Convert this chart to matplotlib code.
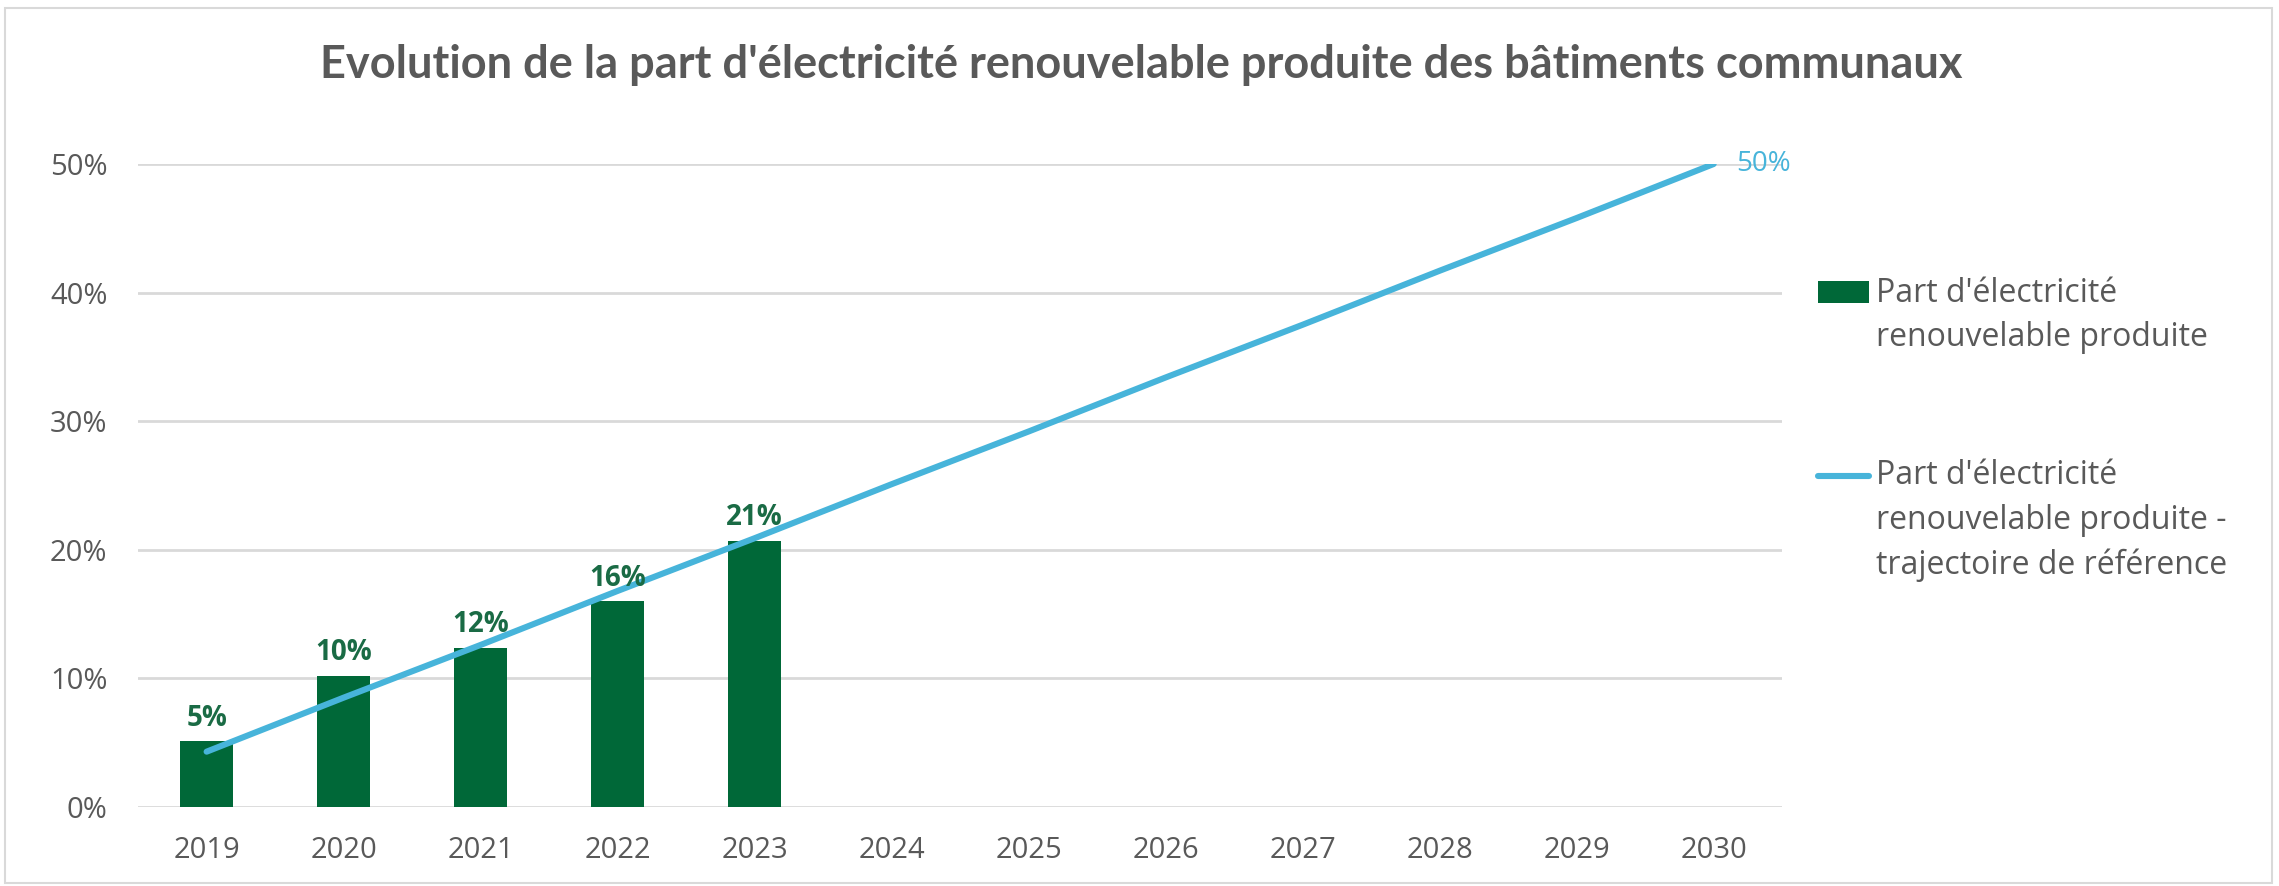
import matplotlib
matplotlib.use("Agg")
import matplotlib.pyplot as plt
from matplotlib.patches import Rectangle
from matplotlib.container import BarContainer
from matplotlib.lines import Line2D
from matplotlib.legend_handler import HandlerPatch, HandlerLine2D, update_from_first_child
from matplotlib.ticker import PercentFormatter

# ---- data ----
years = ['2019', '2020', '2021', '2022', '2023', '2024', '2025', '2026', '2027', '2028', '2029', '2030']
part_produite = [0.051, 0.102, 0.124, 0.160, 0.207]          # bars 2019-2023
bar_labels = ['5%', '10%', '12%', '16%', '21%']
trajectoire = [0.043, 0.085, 0.126, 0.168, 0.209, 0.251, 0.292, 0.334, 0.375, 0.417, 0.458, 0.500]
end_label = '50%'

title = "Evolution de la part d'électricité renouvelable produite des bâtiments communaux"
lbl_bar = "Part d'électricité\nrenouvelable produite"
lbl_line = "Part d'électricité\nrenouvelable produite -\ntrajectoire de référence"

GREEN = '#006838'
GREEN_TXT = '#1A6B45'
BLUE = '#47B4DA'
GREY_TXT = '#595959'
GRID = '#D9D9D9'

LEG_FS = 23


# legend handles sit on the first line of a multi-line label, not the last
# (up = how many points to raise the handle)
class TopPatch(HandlerPatch):
    def __init__(self, up, **kw):
        super().__init__(**kw)
        self.up = up

    def create_artists(self, legend, orig_handle, xdescent, ydescent, width, height, fontsize, trans):
        return super().create_artists(legend, orig_handle, xdescent, ydescent - self.up,
                                      width, height, fontsize, trans)


class TopLine(HandlerLine2D):
    def __init__(self, up, **kw):
        super().__init__(**kw)
        self.up = up

    def create_artists(self, legend, orig_handle, xdescent, ydescent, width, height, fontsize, trans):
        # line y is (height - ydescent) / 2
        return super().create_artists(legend, orig_handle, xdescent, ydescent - 2 * self.up,
                                      width, height, fontsize, trans)


plt.rcParams['font.family'] = ['Open Sans', 'DejaVu Sans']

fig = plt.figure(figsize=(22.79, 8.86), dpi=100)
ax = fig.add_axes([0.0606, 0.0892, 0.7214, 0.7257])

x = list(range(len(years)))
bars = ax.bar(x[:len(part_produite)], part_produite, width=0.39, color=GREEN, zorder=2)
line, = ax.plot(x, trajectoire, color=BLUE, lw=4.4, solid_capstyle='round', zorder=3)

for xi, v, t in zip(x, part_produite, bar_labels):
    ax.annotate(t, (xi, v), xytext=(0, 6), textcoords='offset points',
                ha='center', va='bottom', fontsize=20, fontweight='bold', color=GREEN_TXT)
ax.annotate(end_label, (x[-1], trajectoire[-1]), xytext=(16, 0), textcoords='offset points',
            ha='left', va='center', fontsize=20, color=BLUE)

ax.set_xlim(-0.5, len(years) - 0.5)
ax.set_ylim(0, 0.5)
ax.set_xticks(x)
ax.set_xticklabels(years)
ax.set_yticks([0, 0.1, 0.2, 0.3, 0.4, 0.5])
ax.yaxis.set_major_formatter(PercentFormatter(1.0, decimals=0))
ax.tick_params(axis='both', length=0, labelsize=21, colors=GREY_TXT)
ax.tick_params(axis='x', pad=21)
ax.tick_params(axis='y', pad=22)
ax.grid(axis='y', color=GRID, lw=2, zorder=0)
ax.set_axisbelow(True)
for s in ax.spines.values():
    s.set_visible(False)

fig.text(0.5007, 0.9266, title, ha='center', va='center', fontsize=32.5,
         fontweight='bold', color=GREY_TXT, family=['Lato', 'DejaVu Sans'])

leg = fig.legend([bars, line], [lbl_bar, lbl_line], loc='upper left',
                 bbox_to_anchor=(0.7977, 0.6876), frameon=False, fontsize=LEG_FS,
                 handlelength=1.6, handleheight=0.65, handletextpad=0.22,
                 labelspacing=3.3, borderpad=0, borderaxespad=0,
                 handler_map={BarContainer: TopPatch(17.8, update_func=update_from_first_child),
                              Line2D: TopLine(33.0)})
for t in leg.get_texts():
    t.set_color(GREY_TXT)
    t.set_linespacing(1.45)

fig.patches.append(Rectangle((0.0022, 0.0034), 0.9947, 0.9876, transform=fig.transFigure,
                             fill=False, edgecolor=GRID, lw=1.5))

fig.savefig('out.png', dpi=100, facecolor='white')
